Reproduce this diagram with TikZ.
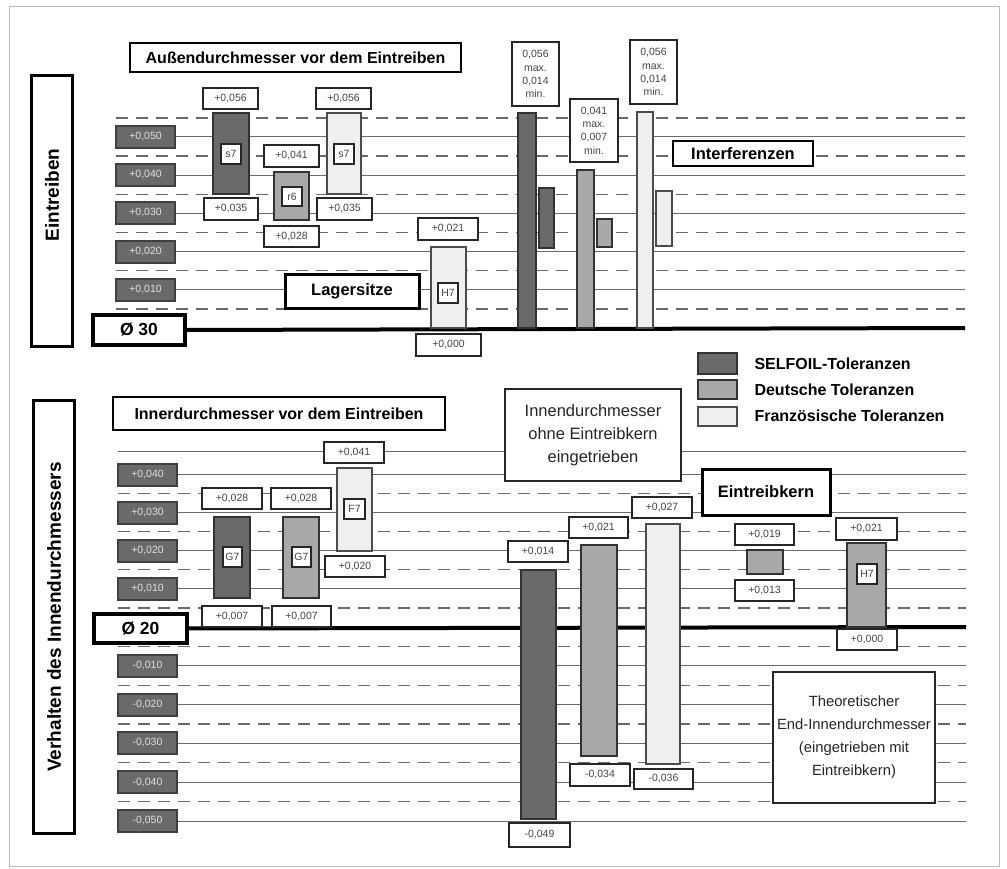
\documentclass[tikz,border=0pt]{standalone}
\usepackage{fontspec}
\setmainfont{Liberation Sans}
\definecolor{cdark}{HTML}{6A6A6A}
\definecolor{cmid}{HTML}{A8A8A8}
\definecolor{clight}{HTML}{EFEFEF}
\definecolor{cline}{HTML}{6A6A6A}
\definecolor{cval}{HTML}{454545}
\definecolor{cframe}{HTML}{BBBBBB}
\newcommand\bx[7]{%
  \pgfmathsetmacro\bxw{#4-#2}\pgfmathsetmacro\bxh{#5-#3}%
  \node[inner sep=0pt, outer sep=0pt, minimum width=\bxw pt, minimum height=\bxh pt, #6] (#1) at ({(#2+#4)/2},{(#3+#5)/2}) {#7};}
\tikzset{
  valbox/.style={draw=black!85, line width=1.1pt, fill=white, text=cval, font=\fontsize{10.5}{12}\selectfont},
  lblbox/.style={draw=black!75, line width=1.2pt, fill=cdark, text=white!88!black, font=\fontsize{10.5}{12}\selectfont},
  gradebox/.style={draw=black!85, line width=1.3pt, fill=white, text=cval, font=\fontsize{10.5}{12}\selectfont},
  interbox/.style={draw=black!85, line width=1.1pt, fill=white, text=cval, align=center, font=\fontsize{10.5}{13.3}\selectfont},
  titlebox/.style={draw=black, line width=1.6pt, fill=white, font=\bfseries\fontsize{16}{19}\selectfont},
  thickbox/.style={draw=black, line width=3pt, fill=white, font=\bfseries\fontsize{16.5}{19}\selectfont},
  diabox/.style={draw=black, line width=4pt, fill=white, font=\bfseries\fontsize{17.5}{20}\selectfont},
  textbox/.style={draw=black!85, line width=1.3pt, fill=white, align=center, text=black!85, font=\fontsize{16.5}{23}\selectfont},
  sidebox/.style={draw=black, line width=3pt},
  sidetext/.style={rotate=90, font=\bfseries\fontsize{19}{22}\selectfont},
  darkbar/.style={draw=black!80, line width=1.3pt, fill=cdark},
  midbar/.style={draw=black!80, line width=1.3pt, fill=cmid},
  lightbar/.style={draw=black!70, line width=1.3pt, fill=clight},
  solidline/.style={draw=cline, line width=1pt},
  dashline/.style={draw=cline, line width=1.3pt, dash pattern=on 12pt off 8pt},
  zeroline/.style={draw=black, line width=4pt},
  legtext/.style={anchor=west, font=\bfseries\fontsize{16}{19}\selectfont}
}
\begin{document}
\begin{tikzpicture}[x=1pt,y=-1pt]
\useasboundingbox (0,0) rectangle (1007,869);
\fill[white] (0,0) rectangle (1007,869);
\draw[cframe, line width=1pt] (9,7) rectangle (999,866);

% ---------- top section grid ----------
\foreach \k in {1,3,5,7,9,11} \draw[dashline] (116,{328-\k*19.1}) -- (965,{328-\k*19.1});
\foreach \k in {2,4,6,8,10} \draw[solidline] (116,{328-\k*19.1}) -- (965,{328-\k*19.1});
% ---------- bottom section grid ----------
\foreach \k in {1,3,5,7} \draw[dashline] (118,{627-\k*19.1}) -- (966,{627-\k*19.1});
\foreach \k in {2,4,6,8} \draw[solidline] (118,{627-\k*19.1}) -- (966,{627-\k*19.1});
\draw[solidline] (118,451) -- (966,451);
\foreach \k in {1,3,5,7,9} \draw[dashline] (118,{627+\k*19.4}) -- (966,{627+\k*19.4});
\foreach \k in {2,4,6,8,10} \draw[solidline] (118,{627+\k*19.4}) -- (966,{627+\k*19.4});

% side boxes
\bx{sideA}{31}{76}{72}{346}{sidebox}{}
\node[sidetext] (sideAt) at (52,195) {Eintreiben};
\bx{sideB}{33}{400}{74}{833}{sidebox}{}
\node[sidetext] (sideBt) at (54,617) {Verhalten des Innendurchmessers};

% ---------- top section ----------
\bx{titleA}{130}{43}{461}{72}{titlebox}{Außendurchmesser vor dem Eintreiben}
\bx{lA50}{116}{126}{175}{148}{lblbox}{+0,050}
\bx{lA40}{116}{164}{175}{186}{lblbox}{+0,040}
\bx{lA30}{116}{202}{175}{224}{lblbox}{+0,030}
\bx{lA20}{116}{241}{175}{263}{lblbox}{+0,020}
\bx{lA10}{116}{279}{175}{301}{lblbox}{+0,010}
\bx{diaA}{93}{315}{185}{345}{diabox}{Ø 30}
\draw[zeroline] (diaA.east) -- (965,328) coordinate (zA);

\bx{barA1}{213}{113}{249}{194}{darkbar}{}
\bx{gA1}{221}{144}{241}{164}{gradebox}{s7}
\bx{vA1t}{203}{88}{258}{109}{valbox}{+0,056}
\bx{vA1b}{204}{198}{258}{220}{valbox}{+0,035}

\bx{barA2}{274}{172}{309}{220}{midbar}{}
\bx{gA2}{282}{187}{302}{206}{gradebox}{r6}
\bx{vA2t}{264}{145}{319}{167}{valbox}{+0,041}
\bx{vA2b}{264}{226}{319}{247}{valbox}{+0,028}

\bx{barA3}{327}{113}{361}{194}{lightbar}{}
\bx{gA3}{334}{144}{354}{164}{gradebox}{s7}
\bx{vA3t}{316}{88}{371}{109}{valbox}{+0,056}
\bx{vA3b}{317}{198}{372}{220}{valbox}{+0,035}

\bx{barA4}{431}{247}{466}{328}{lightbar}{}
\bx{gA4}{438}{283}{458}{303}{gradebox}{H7}
\bx{vA4t}{418}{218}{478}{240}{valbox}{+0,021}
\bx{vA4b}{416}{334}{481}{356}{valbox}{+0,000}
\bx{lager}{285}{275}{419}{308}{thickbox}{Lagersitze}

\bx{iA1}{518}{113}{536}{328}{darkbar}{}
\bx{iA1s}{539}{188}{554}{248}{darkbar}{}
\bx{iA1t}{512}{42}{559}{106}{interbox}{0,056\\max.\\0,014\\min.}
\bx{iA2}{577}{170}{594}{328}{midbar}{}
\bx{iA2s}{597}{219}{612}{247}{midbar}{}
\bx{iA2t}{570}{99}{618}{162}{interbox}{0,041\\max.\\0,007\\min.}
\bx{iA3}{637}{112}{653}{328}{lightbar}{}
\bx{iA3s}{656}{191}{672}{246}{lightbar}{}
\bx{iA3t}{630}{40}{677}{104}{interbox}{0,056\\max.\\0,014\\min.}
\bx{interf}{673}{141}{813}{166}{titlebox, font=\bfseries\fontsize{16.5}{19}\selectfont}{Interferenzen}

% legend
\bx{legD}{698}{353}{737}{374}{darkbar}{}
\node[legtext] (legDt) at (751,364) {SELFOIL-Toleranzen};
\bx{legM}{698}{380}{737}{399}{midbar}{}
\node[legtext] (legMt) at (751,390) {Deutsche Toleranzen};
\bx{legL}{698}{407}{737}{426}{lightbar}{}
\node[legtext] (legLt) at (751,416) {Französische Toleranzen};

% ---------- bottom section ----------
\bx{titleB}{113}{397}{445}{430}{titlebox}{Innerdurchmesser vor dem Eintreiben}
\bx{lB40}{118}{464}{177}{486}{lblbox}{+0,040}
\bx{lB30}{118}{502}{177}{524}{lblbox}{+0,030}
\bx{lB20}{118}{540}{177}{562}{lblbox}{+0,020}
\bx{lB10}{118}{578}{177}{600}{lblbox}{+0,010}
\bx{lBm10}{118}{655}{177}{677}{lblbox}{-0,010}
\bx{lBm20}{118}{694}{177}{716}{lblbox}{-0,020}
\bx{lBm30}{118}{732}{177}{754}{lblbox}{-0,030}
\bx{lBm40}{118}{771}{177}{793}{lblbox}{-0,040}
\bx{lBm50}{118}{810}{177}{832}{lblbox}{-0,050}
\bx{diaB}{94}{614}{187}{643}{diabox}{Ø 20}
\draw[zeroline] (diaB.east) -- (966,627) coordinate (zB);

\bx{barB1}{214}{517}{250}{598}{darkbar}{}
\bx{gB1}{223}{547}{242}{567}{gradebox}{G7}
\bx{vB1t}{202}{488}{262}{509}{valbox}{+0,028}
\bx{vB1b}{202}{606}{262}{627}{valbox}{+0,007}

\bx{barB2}{283}{517}{319}{598}{midbar}{}
\bx{gB2}{292}{547}{311}{567}{gradebox}{G7}
\bx{vB2t}{271}{488}{331}{509}{valbox}{+0,028}
\bx{vB2b}{272}{606}{331}{627}{valbox}{+0,007}

\bx{barB3}{337}{468}{372}{551}{lightbar}{}
\bx{gB3}{344}{499}{365}{519}{gradebox}{F7}
\bx{vB3t}{324}{442}{384}{463}{valbox}{+0,041}
\bx{vB3b}{325}{556}{385}{577}{valbox}{+0,020}

\bx{innen}{505}{389}{681}{481}{textbox}{Innendurchmesser\\ohne Eintreibkern\\eingetrieben}

\bx{barB4}{521}{570}{556}{819}{darkbar}{}
\bx{vB4t}{508}{541}{568}{562}{valbox}{+0,014}
\bx{vB4b}{509}{823}{570}{847}{valbox}{-0,049}
\bx{barB5}{581}{545}{617}{756}{midbar}{}
\bx{vB5t}{569}{517}{628}{538}{valbox}{+0,021}
\bx{vB5b}{570}{764}{630}{786}{valbox}{-0,034}
\bx{barB6}{646}{524}{680}{764}{lightbar}{}
\bx{vB6t}{632}{497}{692}{518}{valbox}{+0,027}
\bx{vB6b}{634}{769}{693}{789}{valbox}{-0,036}

\bx{kern}{702}{469}{830}{515}{thickbox}{Eintreibkern}
\bx{barB7}{747}{550}{783}{574}{midbar}{}
\bx{vB7t}{735}{524}{794}{545}{valbox}{+0,019}
\bx{vB7b}{735}{580}{794}{601}{valbox}{+0,013}

\bx{barB8}{847}{543}{886}{627}{midbar}{}
\bx{gB8}{857}{564}{877}{584}{gradebox}{H7}
\bx{vB8t}{836}{518}{897}{540}{valbox}{+0,021}
\bx{vB8b}{837}{629}{897}{650}{valbox}{+0,000}

\bx{theo}{773}{672}{935}{803}{textbox, font=\fontsize{14.8}{23}\selectfont}{Theoretischer\\End-Innendurchmesser\\(eingetrieben mit\\Eintreibkern)}
\end{tikzpicture}
\end{document}
